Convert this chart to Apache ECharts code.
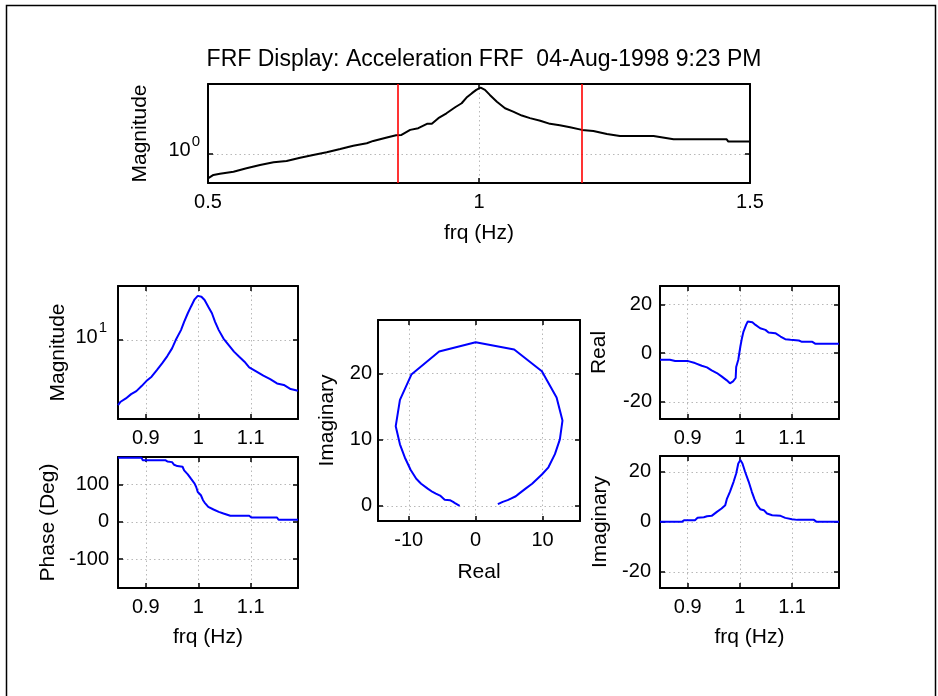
<!DOCTYPE html>
<html><head><meta charset="utf-8">
<script src="https://cdn.jsdelivr.net/npm/echarts@6/dist/echarts.min.js"></script>
<style>html,body{margin:0;padding:0;background:#fff}#c{width:938px;height:696px}</style>
</head><body><div id="c"></div>
<script>
// ---------------- data ----------------
const titleText = 'FRF Display: Acceleration FRF  04-Aug-1998 9:23 PM';
const freqName = 'frq (Hz)';

// overview magnitude (top panel)
const overviewFreq = [0.500,0.510,0.522,0.547,0.571,0.596,0.621,0.645,0.670,0.694,0.719,0.744,0.768,0.793,0.805,0.830,0.847,0.857,0.873,0.888,0.904,0.913,0.925,0.940,0.956,0.968,0.977,0.987,0.995,1.003,1.011,1.020,1.033,1.048,1.063,1.079,1.094,1.113,1.131,1.149,1.168,1.190,1.211,1.236,1.260,1.322,1.359,1.457,1.460,1.500];
const overviewMag = [0.571,0.617,0.635,0.665,0.719,0.776,0.826,0.851,0.918,0.977,1.04,1.12,1.21,1.28,1.35,1.46,1.54,1.55,1.74,1.81,2.0,2.0,2.28,2.55,2.93,3.21,3.66,4.05,4.37,4.6,4.37,3.89,3.33,2.86,2.65,2.42,2.28,2.15,2.0,1.94,1.85,1.74,1.70,1.58,1.51,1.51,1.40,1.40,1.33,1.33];
const cursorFreq = [0.847, 1.19];
const overviewFreqTicks = [0.5, 1, 1.5];
const overviewMagTicks = [1];

// zoomed band
const bandFreqTicks = [0.9, 1, 1.1];
const magFreq = [0.847,0.852,0.862,0.872,0.882,0.892,0.901,0.911,0.921,0.931,0.941,0.950,0.957,0.967,0.973,0.980,0.986,0.993,0.999,1.006,1.012,1.019,1.026,1.032,1.039,1.048,1.058,1.068,1.078,1.088,1.097,1.111,1.124,1.137,1.150,1.163,1.176,1.190];
const magVal = [2.72,2.91,3.11,3.39,3.60,3.98,4.40,4.80,5.48,6.27,7.26,8.47,10.0,12.2,14.4,17.1,19.5,22.6,24.2,23.8,22.3,19.5,17.1,14.4,12.2,10.3,9.05,7.93,7.16,6.48,5.78,5.31,4.90,4.58,4.20,4.07,3.75,3.62];
const magTicks = [10];

const phaseFreq = [0.847,0.892,0.894,0.937,0.941,0.950,0.954,0.960,0.970,0.973,0.980,0.986,0.993,0.996,0.999,1.005,1.009,1.012,1.019,1.029,1.039,1.048,1.061,1.097,1.101,1.150,1.153,1.190];
const phaseVal = [170.8,170.8,164.6,164.6,161.1,159.3,152.2,148.7,146.9,137.2,126.5,115.0,101.8,92.9,79.6,70.8,57.5,51.3,39.8,32.7,26.5,22.1,15.9,15.9,11.5,11.5,5.3,5.3];
const phaseTicks = [-100, 0, 100];

const nyqReal = [-2.39,-3.02,-3.37,-3.85,-4.63,-4.83,-5.32,-5.95,-6.44,-7.17,-8.15,-8.88,-9.71,-10.59,-11.32,-11.95,-11.32,-9.61,-5.46,0,5.76,9.90,12.10,12.98,12.59,11.85,10.88,9.90,8.44,7.46,6.49,6.00,5.27,4.78,4.05,3.32];
const nyqImag = [0,0.35,0.60,0.85,0.90,1.04,1.54,1.84,2.09,2.59,3.33,4.08,5.42,7.31,9.30,12.04,16.02,19.85,23.33,24.73,23.63,20.35,16.37,12.89,10.05,7.81,5.82,4.73,3.33,2.59,1.84,1.44,1.09,0.85,0.60,0.25];
const nyqRealTicks = [-10, 0, 10];
const nyqImagTicks = [0, 10, 20];

const realFreq = [0.847,0.866,0.876,0.901,0.914,0.927,0.937,0.946,0.956,0.965,0.975,0.981,0.987,0.992,0.993,0.997,1.001,1.004,1.007,1.012,1.015,1.024,1.030,1.039,1.049,1.055,1.068,1.078,1.087,1.097,1.113,1.119,1.139,1.145,1.190];
const realVal = [-2.72,-2.72,-3.27,-3.27,-4.08,-5.17,-5.85,-7.07,-8.16,-9.52,-11.16,-12.38,-11.56,-10.2,-5.71,-2.72,2.72,6.12,8.84,11.56,12.93,12.65,11.56,10.2,9.52,8.44,8.16,6.8,5.71,5.44,5.17,4.63,4.63,3.81,3.81];
const realTicks = [-20, 0, 20];

const imagFreq = [0.847,0.889,0.893,0.914,0.919,0.931,0.937,0.946,0.949,0.956,0.965,0.972,0.975,0.981,0.988,0.993,0.997,1.001,1.005,1.010,1.017,1.023,1.028,1.033,1.039,1.046,1.052,1.062,1.078,1.087,1.100,1.110,1.142,1.147,1.190];
const imagVal = [0,0,0.67,0.67,1.6,1.87,2.27,2.4,2.93,4.0,5.33,6.67,9.07,12.0,16.0,19.33,23.33,24.67,23.33,20.0,16.0,12.0,9.07,6.67,5.07,4.67,3.33,2.67,2.4,1.6,1.07,0.8,0.8,0,0];
const imagTicks = [-20, 0, 20];

// ---------------- presentation ----------------
const FONT = '"Liberation Sans", Arial, Helvetica, sans-serif';
const TICK_FS = 20, NAME_FS = 21, TITLE_FS = 23;
const grids = [], xAxes = [], yAxes = [], series = [];

const logFmt = v => '{b|10}{s|' + Math.round(Math.log10(v)) + '}';
const logRich = {
  b: {fontFamily: FONT, fontSize: TICK_FS, color: '#000', lineHeight: 40, padding: [0, 0, 6, 0]},
  s: {fontFamily: FONT, fontSize: 15, color: '#000', lineHeight: 15, verticalAlign: 'top', padding: [0, 0, 0, 1]}
};

function axisPair(gi, dim, a) {
  const isX = dim === 'x';
  const line = {show: true, onZero: false, lineStyle: {color: '#000', width: 2}};
  const tick = {show: true, inside: true, length: 5, customValues: a.ticks, lineStyle: {color: '#000', width: 1.5}};
  const base = {type: a.type || 'value', gridIndex: gi, min: a.min, max: a.max, axisLine: line, axisTick: tick, silent: true};
  const label = {show: true, customValues: a.ticks, color: '#000', fontFamily: FONT, fontSize: TICK_FS, margin: a.margin};
  if (a.type === 'log') { label.formatter = logFmt; label.rich = logRich; }
  const primary = Object.assign({}, base, {
    position: isX ? 'bottom' : 'left',
    axisLabel: label,
    splitLine: {show: true, lineStyle: {color: '#b8b8b8', width: 1, type: [1.5, 3]}},
    name: a.name || '', nameLocation: 'middle', nameGap: a.gap || 0, nameRotate: isX ? 0 : 90,
    nameTextStyle: {fontFamily: FONT, fontSize: NAME_FS, color: '#000'}
  });
  const secondary = Object.assign({}, base, {
    position: isX ? 'top' : 'right',
    axisLabel: {show: false}, splitLine: {show: false}
  });
  return [primary, secondary];
}

function panel(box, x, y, s) {
  const gi = grids.length;
  grids.push({left: box[0], top: box[1], width: box[2], height: box[3], show: false});
  const xi = xAxes.length, yi = yAxes.length;
  xAxes.push(...axisPair(gi, 'x', x));
  yAxes.push(...axisPair(gi, 'y', y));
  series.push(Object.assign({
    type: 'line', xAxisIndex: xi, yAxisIndex: yi, showSymbol: false, symbol: 'none',
    clip: true, animation: false, silent: true,
    lineStyle: {color: s.color, width: 2}, itemStyle: {color: s.color},
    data: s.xs.map((v, i) => [v, s.ys[i]])
  }, s.extra || {}));
}

// top overview
panel([208, 84, 542, 99],
  {min: 0.5, max: 1.5, ticks: overviewFreqTicks, margin: 9, name: freqName, gap: 40},
  {type: 'log', min: 0.513, max: 5.0, ticks: overviewMagTicks, margin: 8, name: 'Magnitude', gap: 57},
  {xs: overviewFreq, ys: overviewMag, color: '#000', extra: {
    markLine: {silent: true, symbol: ['none', 'none'], animation: false, label: {show: false},
      lineStyle: {color: '#ff0000', width: 1.6, type: 'solid'},
      data: cursorFreq.map(f => ({xAxis: f}))}
  }});
// left magnitude
panel([118, 286, 180, 133],
  {min: 0.847, max: 1.19, ticks: bandFreqTicks, margin: 9},
  {type: 'log', min: 2.06, max: 29.5, ticks: magTicks, margin: 11, name: 'Magnitude', gap: 49},
  {xs: magFreq, ys: magVal, color: '#0000ff'});
// left phase
panel([118, 457, 180, 131],
  {min: 0.847, max: 1.19, ticks: bandFreqTicks, margin: 9, name: freqName, gap: 39},
  {min: -177, max: 173, ticks: phaseTicks, margin: 9, name: 'Phase (Deg)', gap: 59},
  {xs: phaseFreq, ys: phaseVal, color: '#0000ff'});
// nyquist
panel([378, 320, 202, 201],
  {min: -14.6, max: 15.6, ticks: nyqRealTicks, margin: 9, name: 'Real', gap: 41},
  {min: -2.3, max: 28.1, ticks: nyqImagTicks, margin: 6, name: 'Imaginary', gap: 40},
  {xs: nyqReal, ys: nyqImag, color: '#0000ff'});
// right real
panel([660, 286, 179, 133],
  {min: 0.847, max: 1.19, ticks: bandFreqTicks, margin: 9},
  {min: -27, max: 27.5, ticks: realTicks, margin: 8, name: 'Real', gap: 50},
  {xs: realFreq, ys: realVal, color: '#0000ff'});
// right imaginary
panel([660, 456, 179, 132],
  {min: 0.847, max: 1.19, ticks: bandFreqTicks, margin: 9, name: freqName, gap: 39},
  {min: -26.4, max: 26.3, ticks: imagTicks, margin: 9, name: 'Imaginary', gap: 49},
  {xs: imagFreq, ys: imagVal, color: '#0000ff'});

const chart = echarts.init(document.getElementById('c'), null, {renderer: 'canvas'});
chart.setOption({
  animation: false,
  backgroundColor: '#fff',
  title: {text: titleText, left: 479, top: 43, textAlign: 'center',
    textStyle: {fontFamily: FONT, fontSize: TITLE_FS, fontWeight: 'normal', color: '#000'}},
  graphic: [{type: 'rect', silent: true, z: -1,
    shape: {x: 6.5, y: 5.5, width: 929, height: 720},
    style: {fill: 'none', stroke: '#000', lineWidth: 1.5}}],
  grid: grids, xAxis: xAxes, yAxis: yAxes, series: series
});
</script></body></html>
